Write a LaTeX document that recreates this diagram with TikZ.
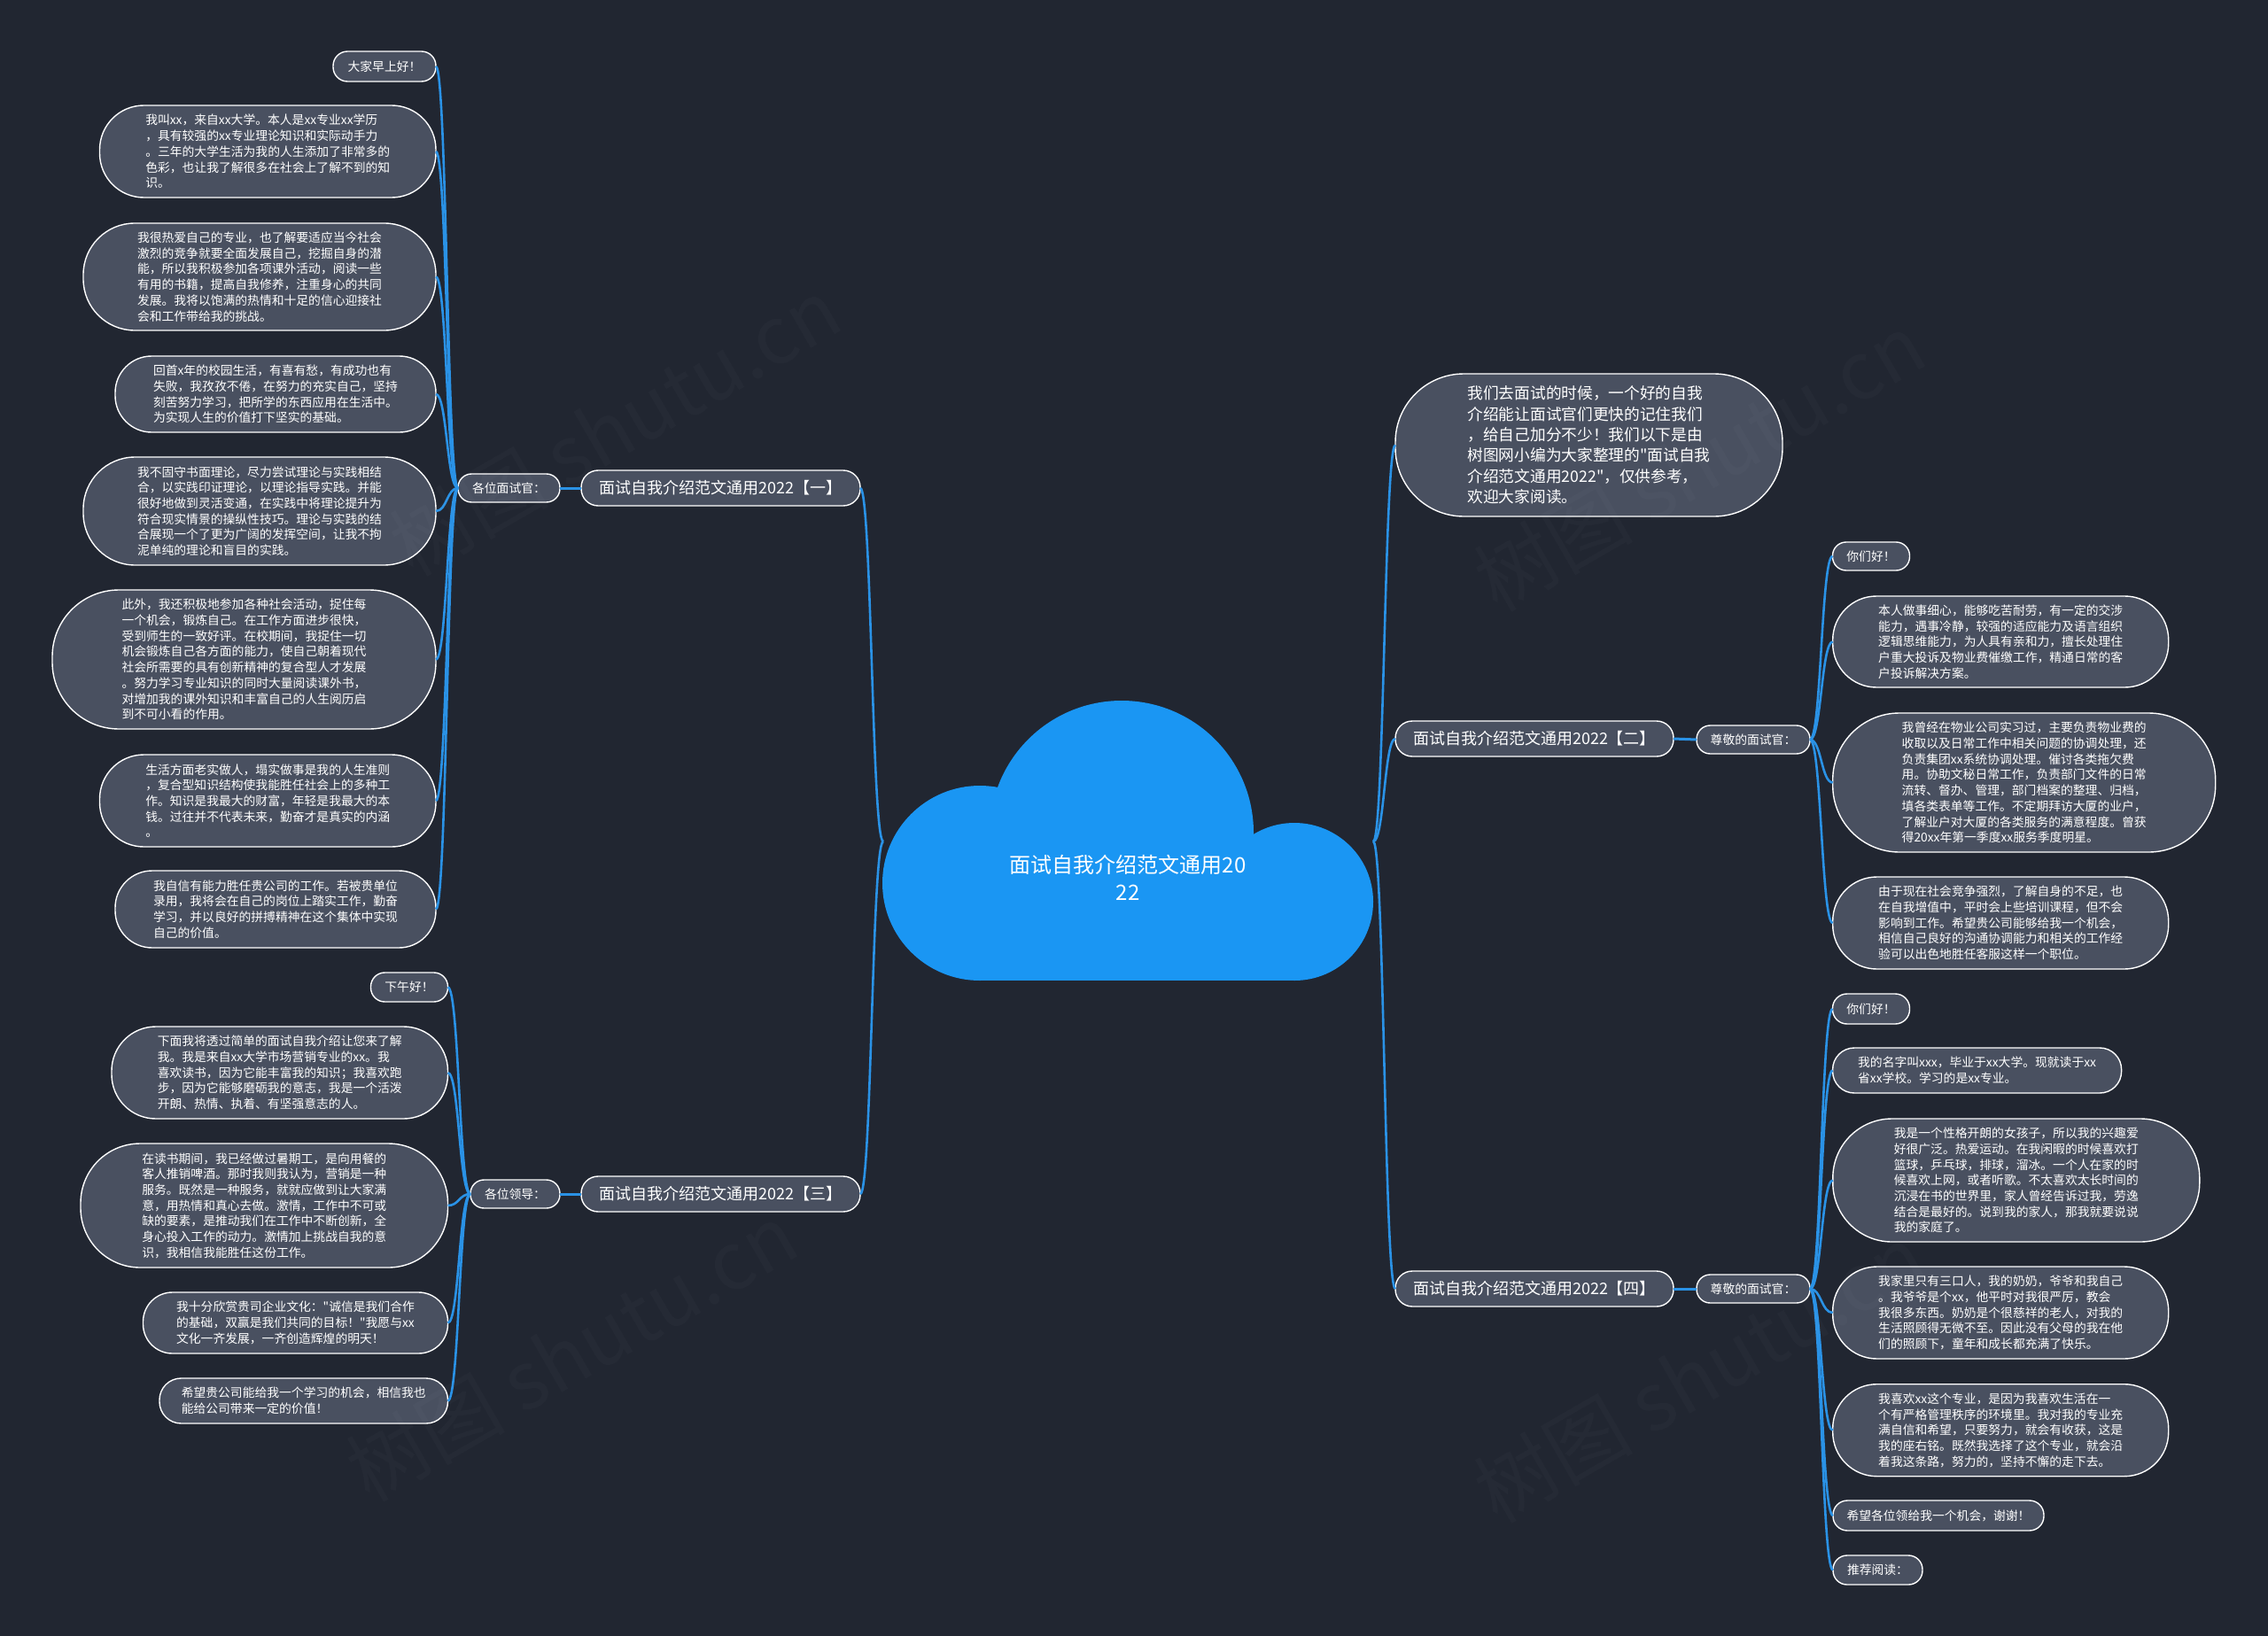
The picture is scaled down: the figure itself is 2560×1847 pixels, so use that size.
\documentclass[tikz,border=0pt]{standalone}
\usepackage{fontspec}
\setmainfont{Noto Sans CJK SC}[Ligatures=TeXOff]
\usepackage{tikz}
\usetikzlibrary{calc}

\definecolor{mapback}{HTML}{212631}
\definecolor{pillfill}{HTML}{495060}
\definecolor{cloudblue}{HTML}{1A96F3}
\definecolor{linkblue}{HTML}{2A92E6}

\tikzset{
	pill/.style 2 args={draw=white, fill=pillfill, text=white, line width=0.7pt, inner sep=0pt, outer sep=0pt, align=left,
		minimum width=#1*0.5pt, minimum height=#2*0.5pt, rounded corners=#2*0.24pt},
	leaf/.style={font=\fontsize{6.9}{8.85}\selectfont},
	topic/.style={font=\fontsize{6.9}{8.85}\selectfont},
	chapter/.style={font=\fontsize{9}{11.65}\selectfont},
	intro/.style={font=\fontsize{8.85}{11.65}\selectfont},
	curvelink/.style={draw=linkblue, line width=1.3pt, to path={let \p1=(\tikztostart), \p2=(\tikztotarget), \n1={(\x1+\x2)/2} in .. controls (\n1, \y1) and (\n1, \y2) .. (\tikztotarget)}},
	stemlink/.style={draw=linkblue, line width=1.5pt},
	mark text/.style={text=white, opacity=0.018, rotate=30, font=\fontsize{45}{50}\selectfont}
}

\begin{document}
\begin{tikzpicture}[x=0.5pt, y=-0.5pt]
	\fill [mapback] (0, 0) rectangle (2560, 1847);

	\fill [cloudblue] (1106, 997) circle (110);
	\fill [cloudblue] (1461, 1018) circle (89);
	\fill [cloudblue] (1266, 940) circle (149);
	\fill [cloudblue] (1106, 950) rectangle (1461, 1107);
	\node [text=white, align=center, font=\fontsize{12}{15.5}\selectfont] (title) at (1273, 991) {面试自我介绍范文通用20\\22};
	\coordinate (cloudleft) at (997, 950);
	\coordinate (cloudright) at (1550, 950);

	\node [pill={315}{40}, chapter] (chapterone) at (813.5, 551) {面试自我介绍范文通用2022【一】};
	\node [pill={115}{32}, topic] (topicone) at (574.5, 551) {各位面试官：};
	\node [pill={116}{34}, leaf] (oneA) at (434, 75) {大家早上好！};
	\node [pill={379.5}{104}, leaf] (oneB) at (302.25, 171) {我叫xx，来自xx大学。本人是xx专业xx学历\\，具有较强的xx专业理论知识和实际动手力\\。三年的大学生活为我的人生添加了非常多的\\色彩，也让我了解很多在社会上了解不到的知\\识。};
	\node [pill={398}{121}, leaf] (oneC) at (293, 312.5) {我很热爱自己的专业，也了解要适应当今社会\\激烈的竞争就要全面发展自己，挖掘自身的潜\\能，所以我积极参加各项课外活动，阅读一些\\有用的书籍，提高自我修养，注重身心的共同\\发展。我将以饱满的热情和十足的信心迎接社\\会和工作带给我的挑战。};
	\node [pill={362}{86}, leaf] (oneD) at (311, 445) {回首x年的校园生活，有喜有愁，有成功也有\\失败，我孜孜不倦，在努力的充实自己，坚持\\刻苦努力学习，把所学的东西应用在生活中。\\为实现人生的价值打下坚实的基础。};
	\node [pill={398}{122}, leaf] (oneE) at (293, 577) {我不固守书面理论，尽力尝试理论与实践相结\\合，以实践印证理论，以理论指导实践。并能\\很好地做到灵活变通，在实践中将理论提升为\\符合现实情景的操纵性技巧。理论与实践的结\\合展现一个了更为广阔的发挥空间，让我不拘\\泥单纯的理论和盲目的实践。};
	\node [pill={433}{157}, leaf] (oneF) at (275.5, 744.5) {此外，我还积极地参加各种社会活动，捉住每\\一个机会，锻炼自己。在工作方面进步很快，\\受到师生的一致好评。在校期间，我捉住一切\\机会锻炼自己各方面的能力，使自己朝着现代\\社会所需要的具有创新精神的复合型人才发展\\。努力学习专业知识的同时大量阅读课外书，\\对增加我的课外知识和丰富自己的人生阅历启\\到不可小看的作用。};
	\node [pill={379.5}{104}, leaf] (oneG) at (302.25, 904) {生活方面老实做人，塌实做事是我的人生准则\\，复合型知识结构使我能胜任社会上的多种工\\作。知识是我最大的财富，年轻是我最大的本\\钱。过往并不代表未来，勤奋才是真实的内涵\\。};
	\node [pill={362}{87}, leaf] (oneH) at (311, 1026.5) {我自信有能力胜任贵公司的工作。若被贵单位\\录用，我将会在自己的岗位上踏实工作，勤奋\\学习，并以良好的拼搏精神在这个集体中实现\\自己的价值。};

	\node [pill={315}{40}, chapter] (chapterthree) at (813.5, 1348) {面试自我介绍范文通用2022【三】};
	\node [pill={101}{32}, topic] (topicthree) at (581.5, 1348) {各位领导：};
	\node [pill={87}{33}, leaf] (threeA) at (462, 1114.5) {下午好！};
	\node [pill={379.5}{104}, leaf] (threeB) at (315.75, 1211) {下面我将透过简单的面试自我介绍让您来了解\\我。我是来自xx大学市场营销专业的xx。我\\喜欢读书，因为它能丰富我的知识；我喜欢跑\\步，因为它能够磨砺我的意志，我是一个活泼\\开朗、热情、执着、有坚强意志的人。};
	\node [pill={414.5}{140}, leaf] (threeC) at (298.25, 1361) {在读书期间，我已经做过暑期工，是向用餐的\\客人推销啤酒。那时我则我认为，营销是一种\\服务。既然是一种服务，就就应做到让大家满\\意，用热情和真心去做。激情，工作中不可或\\缺的要素，是推动我们在工作中不断创新，全\\身心投入工作的动力。激情加上挑战自我的意\\识，我相信我能胜任这份工作。};
	\node [pill={344}{69}, leaf] (threeD) at (333.5, 1493.5) {我十分欣赏贵司企业文化："诚信是我们合作\\的基础，双赢是我们共同的目标！"我愿与xx\\文化一齐发展，一齐创造辉煌的明天！};
	\node [pill={325.5}{51}, leaf] (threeE) at (342.75, 1581.5) {希望贵公司能给我一个学习的机会，相信我也\\能给公司带来一定的价值！};

	\node [pill={437}{161}, intro] (welcome) at (1793.5, 502.5) {我们去面试的时候，一个好的自我\\介绍能让面试官们更快的记住我们\\，给自己加分不少！我们以下是由\\树图网小编为大家整理的"面试自我\\介绍范文通用2022"，仅供参考，\\欢迎大家阅读。};

	\node [pill={314}{40}, chapter] (chaptertwo) at (1732, 834) {面试自我介绍范文通用2022【二】};
	\node [pill={128}{32}, topic] (topictwo) at (1979, 835) {尊敬的面试官：};
	\node [pill={87}{32}, leaf] (twoA) at (2112, 628) {你们好！};
	\node [pill={379}{103}, leaf] (twoB) at (2258.2, 724.5) {本人做事细心，能够吃苦耐劳，有一定的交涉\\能力，遇事冷静，较强的适应能力及语言组织\\逻辑思维能力，为人具有亲和力，擅长处理住\\户重大投诉及物业费催缴工作，精通日常的客\\户投诉解决方案。};
	\node [pill={432}{157}, leaf] (twoC) at (2284.7, 883.5) {我曾经在物业公司实习过，主要负责物业费的\\收取以及日常工作中相关问题的协调处理，还\\负责集团xx系统协调处理。催讨各类拖欠费\\用。协助文秘日常工作，负责部门文件的日常\\流转、督办、管理，部门档案的整理、归档，\\填各类表单等工作。不定期拜访大厦的业户，\\了解业户对大厦的各类服务的满意程度。曾获\\得20xx年第一季度xx服务季度明星。};
	\node [pill={379}{104}, leaf] (twoD) at (2258.2, 1042) {由于现在社会竞争强烈，了解自身的不足，也\\在自我增值中，平时会上些培训课程，但不会\\影响到工作。希望贵公司能够给我一个机会，\\相信自己良好的沟通协调能力和相关的工作经\\验可以出色地胜任客服这样一个职位。};

	\node [pill={314}{40}, chapter] (chapterfour) at (1732, 1455) {面试自我介绍范文通用2022【四】};
	\node [pill={128}{32}, topic] (topicfour) at (1979, 1455) {尊敬的面试官：};
	\node [pill={87}{34}, leaf] (fourA) at (2112, 1139) {你们好！};
	\node [pill={326}{51}, leaf] (fourB) at (2231.6, 1208.5) {我的名字叫xxx，毕业于xx大学。现就读于xx\\省xx学校。学习的是xx专业。};
	\node [pill={414}{139}, leaf] (fourC) at (2275.8, 1332.5) {我是一个性格开朗的女孩子，所以我的兴趣爱\\好很广泛。热爱运动。在我闲暇的时候喜欢打\\篮球，乒乓球，排球，溜冰。一个人在家的时\\候喜欢上网，或者听歌。不太喜欢太长时间的\\沉浸在书的世界里，家人曾经告诉过我，劳逸\\结合是最好的。说到我的家人，那我就要说说\\我的家庭了。};
	\node [pill={379}{104}, leaf] (fourD) at (2258.2, 1482) {我家里只有三口人，我的奶奶，爷爷和我自己\\。我爷爷是个xx，他平时对我很严厉，教会\\我很多东西。奶奶是个很慈祥的老人，对我的\\生活照顾得无微不至。因此没有父母的我在他\\们的照顾下，童年和成长都充满了快乐。};
	\node [pill={379}{104}, leaf] (fourE) at (2258.2, 1614.7) {我喜欢xx这个专业，是因为我喜欢生活在一\\个有严格管理秩序的环境里。我对我的专业充\\满自信和希望，只要努力，就会有收获，这是\\我的座右铭。既然我选择了这个专业，就会沿\\着我这条路，努力的，坚持不懈的走下去。};
	\node [pill={238}{34}, leaf] (fourF) at (2188, 1711) {希望各位领给我一个机会，谢谢！};
	\node [pill={101}{33}, leaf] (fourG) at (2119.5, 1772.5) {推荐阅读：};

	\foreach \target in {chapterone, chapterthree}
		\draw [curvelink] (cloudleft) to (\target.east);
	\foreach \target in {welcome, chaptertwo, chapterfour}
		\draw [curvelink] (cloudright) to (\target.west);

	\draw [stemlink] (chapterone.west) -- (topicone.east);
	\draw [stemlink] (chapterthree.west) -- (topicthree.east);
	\draw [stemlink] (chaptertwo.east) -- (topictwo.west);
	\draw [stemlink] (chapterfour.east) -- (topicfour.west);

	\foreach \target in {oneA, oneB, oneC, oneD, oneE, oneF, oneG, oneH}
		\draw [curvelink] (topicone.west) to (\target.east);
	\foreach \target in {threeA, threeB, threeC, threeD, threeE}
		\draw [curvelink] (topicthree.west) to (\target.east);
	\foreach \target in {twoA, twoB, twoC, twoD}
		\draw [curvelink] (topictwo.east) to (\target.west);
	\foreach \target in {fourA, fourB, fourC, fourD, fourE, fourF, fourG}
		\draw [curvelink] (topicfour.east) to (\target.west);

	\node [mark text] (marka) at (694, 482) {树图 shutu.cn};
	\node [mark text] (markb) at (1918, 522) {树图 shutu.cn};
	\node [mark text] (markc) at (645, 1527) {树图 shutu.cn};
	\node [mark text] (markd) at (1918, 1551) {树图 shutu.cn};
\end{tikzpicture}
\end{document}
